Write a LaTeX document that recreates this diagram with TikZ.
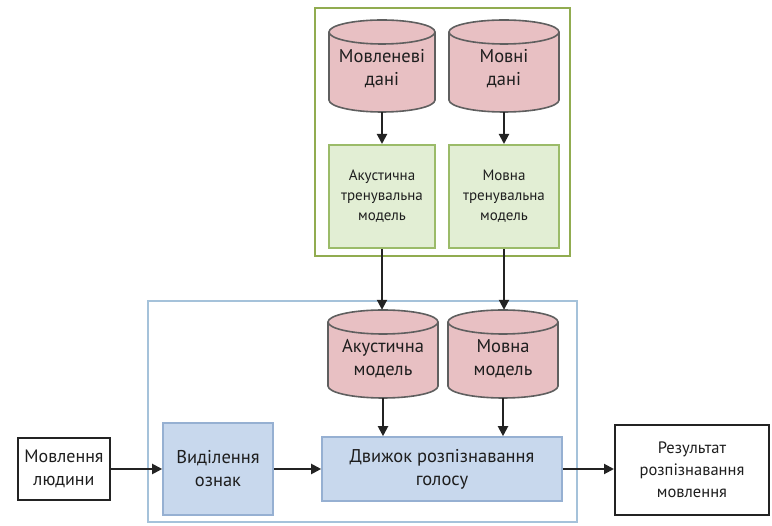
\documentclass[tikz,border=0pt]{standalone}
\usepackage{fontspec}
\setmainfont{PT Sans}
\usetikzlibrary{arrows.meta,calc}
\definecolor{cylfill}{RGB}{232,192,195}
\definecolor{cyldraw}{RGB}{95,95,95}
\definecolor{grfill}{RGB}{226,238,212}
\definecolor{grdraw}{RGB}{155,187,105}
\definecolor{grouter}{RGB}{145,172,80}
\definecolor{blfill}{RGB}{200,216,237}
\definecolor{bldraw}{RGB}{150,176,210}
\definecolor{blouter}{RGB}{165,194,218}
\definecolor{txt}{RGB}{30,30,30}
\definecolor{arr}{RGB}{35,35,35}
\tikzset{
  cylnode/.style={draw=none,inner sep=0pt,align=center,text=txt,font=\fontsize{18.5}{23}\selectfont},
  cylbody/.style={draw=cyldraw,fill=cylfill,line width=1.6pt},
  grbox/.style={draw=grdraw,fill=grfill,line width=2pt,inner sep=0pt,align=center,text=txt,font=\fontsize{15}{20}\selectfont},
  blbox/.style={draw=bldraw,fill=blfill,line width=1.6pt,inner sep=0pt,align=center,text=txt,font=\fontsize{18.5}{23}\selectfont},
  whbox/.style={draw=arr,fill=white,line width=2pt,inner sep=0pt,align=center,text=txt,font=\fontsize{18}{23}\selectfont},
  conn/.style={draw=arr,line width=2pt,-{Triangle[length=10pt,width=10pt]}},
}
\newcommand{\mycyl}[7]{% name, cx, cy, w, h, text, text offset
  \path[cylbody] (#2-#4/2,#3+#5/2-12) -- (#2-#4/2,#3-#5/2+12)
     arc[start angle=180,end angle=360,x radius=#4/2*1pt,y radius=12pt]
     -- (#2+#4/2,#3+#5/2-12)
     arc[start angle=0,end angle=180,x radius=#4/2*1pt,y radius=12pt] -- cycle;
  \draw[draw=cyldraw,line width=1.6pt] (#2-#4/2,#3+#5/2-12)
     arc[start angle=180,end angle=360,x radius=#4/2*1pt,y radius=12pt];
  \node[cylnode,minimum width=#4*1pt,minimum height=#5*1pt] (#1) at (#2,#3) {};
  \node[cylnode] at (#2,#3+#7) {#6};
}
\begin{document}
\begin{tikzpicture}[x=1pt,y=1pt]
\useasboundingbox (0,0) rectangle (772,-526);
% outer frames
\draw[draw=grouter,line width=2.2pt] (315,-8) rectangle (570,-256);
\draw[draw=blouter,line width=2.2pt] (148,-301) rectangle (577,-522);
% top cylinders
\mycyl{cA}{382}{-66}{106}{92}{Мовленеві\\дані}{-3}
\mycyl{cB}{504}{-66}{110}{92}{Мовні\\дані}{-3}
% green boxes
\node[grbox,minimum width=106pt,minimum height=103pt] (gA) at (382,-196.5) {Акустична\\тренувальна\\модель};
\node[grbox,minimum width=110pt,minimum height=103pt] (gB) at (504,-196.5) {Мовна\\тренувальна\\модель};
% bottom cylinders
\mycyl{cC}{383}{-354}{110}{88}{Акустична\\модель}{-5}
\mycyl{cD}{503}{-354}{110}{88}{Мовна\\модель}{-5}
% blue boxes
\node[blbox,minimum width=240pt,minimum height=64pt] (eng) at (442,-469) {Движок розпізнавання\\голосу};
\node[blbox,minimum width=110pt,minimum height=92pt] (feat) at (218,-469) {Виділення\\ознак};
% white boxes
\node[whbox,minimum width=92pt,minimum height=62pt] (hum) at (64,-469) {Мовлення\\людини};
\node[whbox,minimum width=154pt,minimum height=90pt,font=\fontsize{16.5}{22}\selectfont] (res) at (692,-470) {Результат\\розпізнавання\\мовлення};
% connectors
\draw[conn] (cA.south) -- (cA.south |- gA.north);
\draw[conn] (cB.south) -- (cB.south |- gB.north);
\draw[conn] (gA.south) -- (gA.south |- cC.north);
\draw[conn] (gB.south) -- (gB.south |- cD.north);
\draw[conn] (cC.south) -- (cC.south |- eng.north);
\draw[conn] (cD.south) -- (cD.south |- eng.north);
\draw[conn] (hum.east) -- (feat.west);
\draw[conn] (feat.east) -- (eng.west);
\draw[conn] (eng.east) -- (eng.east -| res.west);
\end{tikzpicture}
\end{document}
